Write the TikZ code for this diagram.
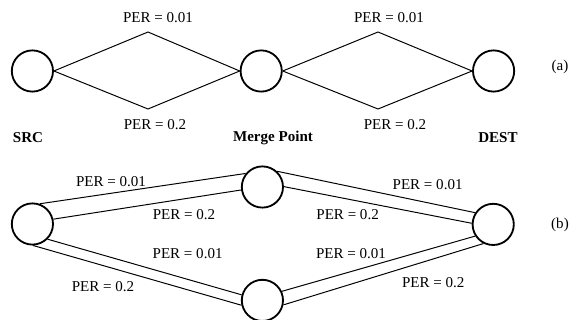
\documentclass[tikz,border=0pt]{standalone}
\usepackage{fontspec}
\setmainfont{Liberation Serif}
\usetikzlibrary{positioning}
\tikzset{
	stn/.style={draw,circle,line width=1.3pt,minimum size=1.03cm,inner sep=0pt},
	per/.style={font=\fontsize{10.7}{13}\selectfont,inner sep=0pt},
	tag/.style={font=\fontsize{10.7}{13}\selectfont\bfseries,inner sep=0pt}
}

\begin{document}
\begin{tikzpicture}[line width=0.7pt]
			\useasboundingbox (0,0) rectangle (14.275,-8);
			% (a)
			\node[stn] (src) at (0.81,-1.775) {};
			\node[stn] (mp) at (6.53,-1.775) {};
			\node[stn] (dst) at (12.34,-1.775) {};
			\node[coordinate] (hi1) at (3.7,-0.8) {};
			\node[coordinate] (lo1) at (3.7,-2.725) {};
			\node[coordinate] (hi2) at (9.45,-0.8) {};
			\node[coordinate] (lo2) at (9.45,-2.725) {};
			\draw (src.east) -- (hi1) -- (mp.west);
			\draw (src.east) -- (lo1) -- (mp.west);
			\draw (mp.east) -- (hi2) -- (dst.west);
			\draw (mp.east) -- (lo2) -- (dst.west);
			\node[per] (p1) at (3.95,-0.45) {PER = 0.01};
			\node[per] (p2) at (3.875,-3.125) {PER = 0.2};
			\node[per] (p3) at (9.725,-0.45) {PER = 0.01};
			\node[per] (p4) at (9.875,-3.125) {PER = 0.2};
			\node[tag] (srct) at (0.7,-3.45) {SRC};
			\node[tag] (mpt) at (6.825,-3.45) {Merge Point};
			\node[tag] (dstt) at (12.45,-3.45) {DEST};
			\node[per] (ta) at (14.0,-1.675) {(a)};
			% (b)
			\node[stn] (l) at (0.81,-5.6) {};
			\node[stn] (t) at (6.56,-4.675) {};
			\node[stn] (b) at (6.56,-7.51) {};
			\node[stn] (r) at (12.33,-5.61) {};
			\draw (l.70) -- (t.141);
			\draw (l.13) -- (t.188);
			\draw (l.-45) -- (b.165);
			\draw (l.-88) -- (b.193);
			\draw (t.47) -- (r.147);
			\draw (t.1) -- (r.177);
			\draw (b.25) -- (r.213);
			\draw (b.-12) -- (r.243);
			\node[per] (q1) at (2.775,-4.54) {PER = 0.01};
			\node[per] (q2) at (4.6,-5.375) {PER = 0.2};
			\node[per] (q3) at (4.69,-6.33) {PER = 0.01};
			\node[per] (q4) at (2.575,-7.17) {PER = 0.2};
			\node[per] (q5) at (10.69,-4.625) {PER = 0.01};
			\node[per] (q6) at (8.69,-5.375) {PER = 0.2};
			\node[per] (q7) at (8.775,-6.33) {PER = 0.01};
			\node[per] (q8) at (10.83,-7.07) {PER = 0.2};
			\node[per] (tb) at (14.0,-5.625) {(b)};
		\end{tikzpicture}
\end{document}
